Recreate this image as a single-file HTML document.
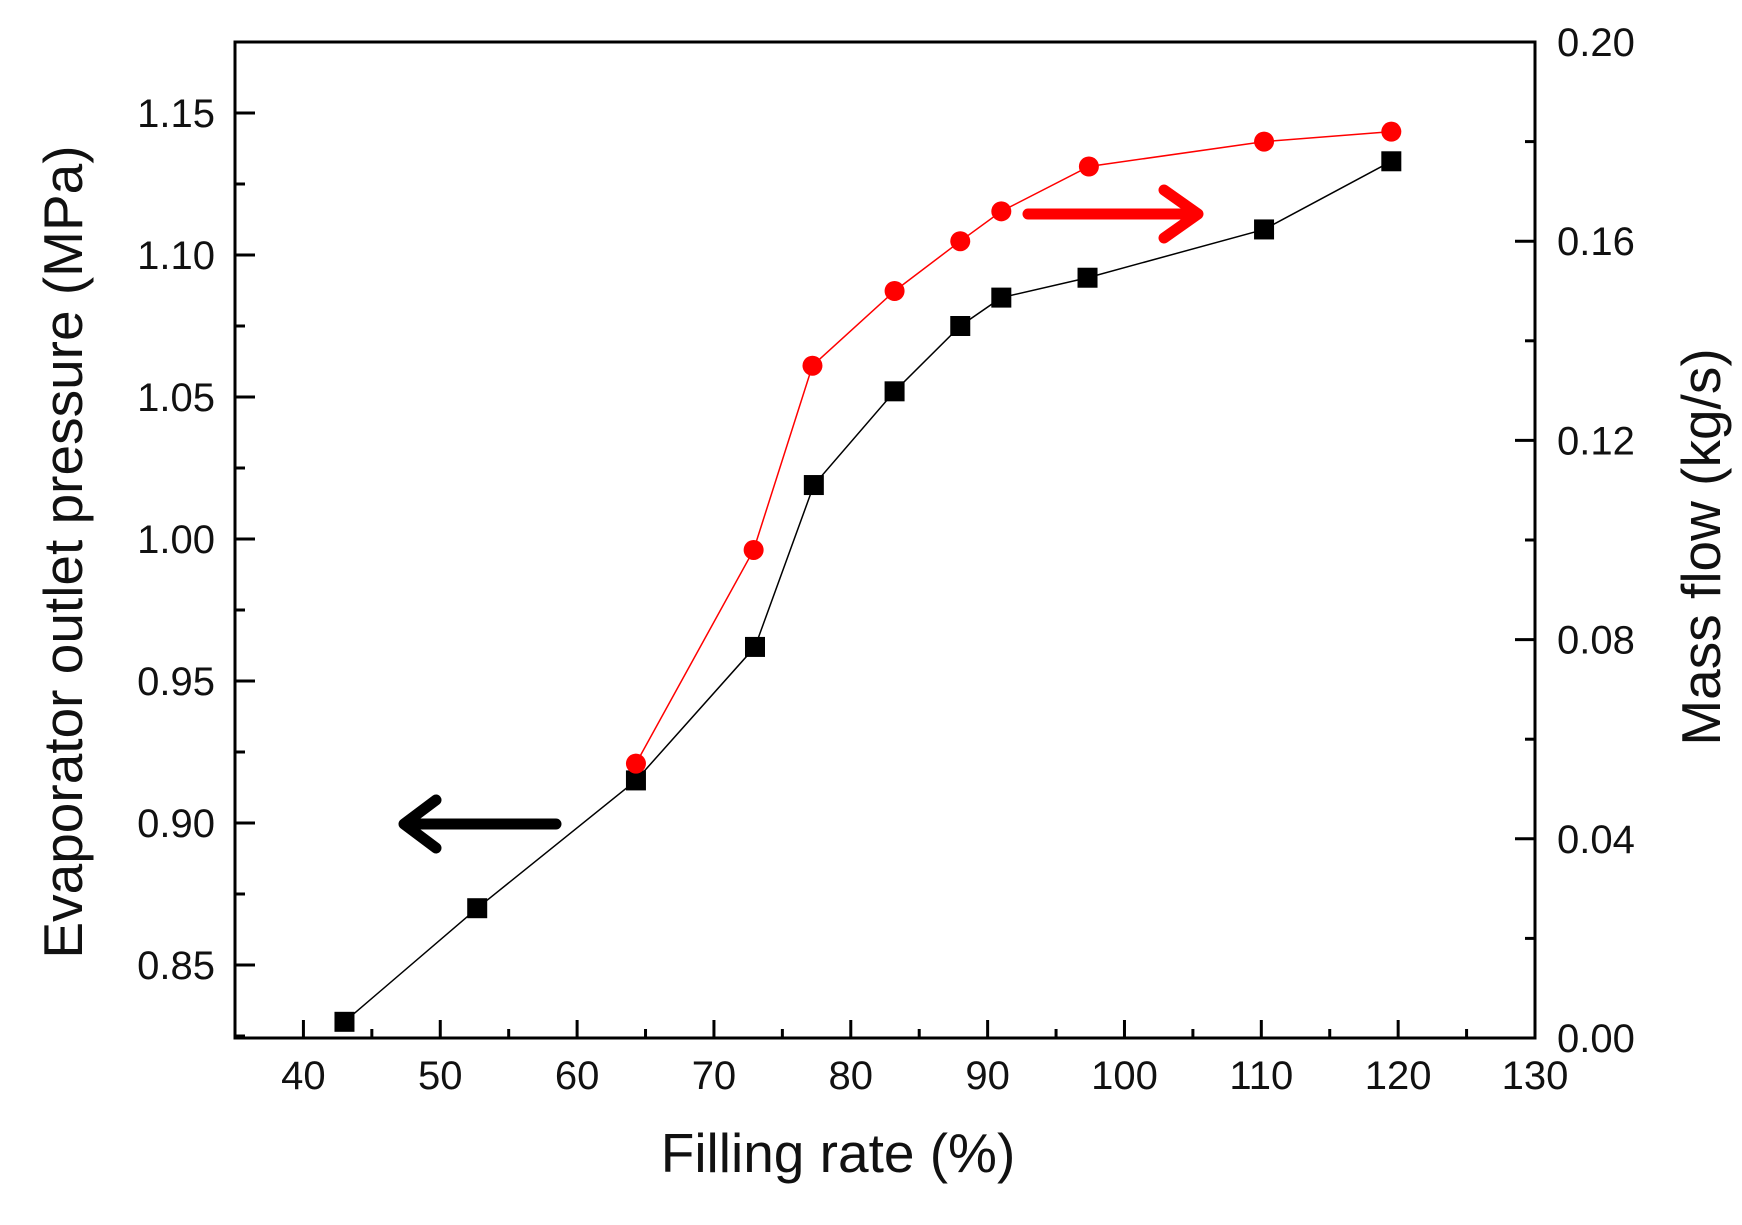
<!DOCTYPE html>
<html><head><meta charset="utf-8"><style>
body{margin:0;background:#fff}
svg text{font-family:"Liberation Sans",sans-serif;fill:#111}
</style></head><body>
<svg width="1742" height="1220" id="c"></svg>
<script>
const xVals=[43,52.7,64.3,73,77.3,83.2,88,91,97.3,110.2,119.5];
const pressure=[0.830,0.870,0.915,0.962,1.019,1.052,1.075,1.085,1.092,1.109,1.133];
const xRed=[64.3,72.9,77.2,83.2,88,91,97.4,110.2,119.5];
const massFlow=[0.0551,0.098,0.135,0.150,0.160,0.166,0.175,0.180,0.182];
const xTicks=[40,50,60,70,80,90,100,110,120,130];
const yLTicks=[0.85,0.90,0.95,1.00,1.05,1.10,1.15];
const yRTicks=[0.00,0.04,0.08,0.12,0.16,0.20];
const L=235,R=1535,T=42,B=1038;
const X=v=>L+(v-35)/95*(R-L);
const YL=v=>B-(v-0.8243)/(1.175-0.8243)*(B-T);
const YR=v=>B-v/0.2*(B-T);
const s=document.getElementById('c');const NS='http://www.w3.org/2000/svg';
function el(t,a,name,txt){const e=document.createElementNS(NS,t);for(const k in a)e.setAttribute(k,a[k]);


if(txt!==undefined)e.textContent=txt;s.appendChild(e);return e;}
el('rect',{x:L,y:T,width:R-L,height:B-T,fill:'none',stroke:'#000','stroke-width':3},'plot-frame');
for(let v=35;v<=130;v+=5){const maj=v%10==0;el('line',{x1:X(v),x2:X(v),y1:B,y2:B-(maj?18:9),stroke:'#000','stroke-width':3},'x-tick');}
xTicks.forEach(v=>el('text',{x:X(v),y:B+51,'font-size':40,'text-anchor':'middle'},'x-tick-label',v));
for(let v=0.825;v<=1.175;v+=0.025){const maj=Math.abs(Math.round(v*20)-v*20)<1e-6;el('line',{x1:L,x2:L+(maj?20:10),y1:YL(v),y2:YL(v),stroke:'#000','stroke-width':3},'y-left-tick');}
yLTicks.forEach(v=>el('text',{x:L-20,y:YL(v)+14,'font-size':40,'text-anchor':'end'},'y-left-tick-label',v.toFixed(2)));
for(let i=0;i<=10;i++){const v=i*0.02;const maj=i%2==0;el('line',{x1:R,x2:R-(maj?20:10),y1:YR(v),y2:YR(v),stroke:'#000','stroke-width':3},'y-right-tick');}
yRTicks.forEach(v=>el('text',{x:R+22,y:YR(v)+14,'font-size':40},'y-right-tick-label',v.toFixed(2)));
el('text',{x:838,y:1172,'font-size':55,'text-anchor':'middle'},'x-axis-title','Filling rate (%)');
el('text',{x:0,y:0,'font-size':55,'text-anchor':'middle',transform:'translate(82,552) rotate(-90)'},'y-left-axis-title','Evaporator outlet pressure (MPa)');
el('text',{x:0,y:0,'font-size':55,'text-anchor':'middle',transform:'translate(1720,547) rotate(-90)'},'y-right-axis-title','Mass flow (kg/s)');
el('polyline',{points:xVals.map((x,i)=>X(x)+','+YL(pressure[i])).join(' '),fill:'none',stroke:'#000','stroke-width':1.5},'pressure-line');
xVals.forEach((x,i)=>el('rect',{x:X(x)-10,y:YL(pressure[i])-10,width:20,height:20,fill:'#000'},'pressure-point'));
el('polyline',{points:xRed.map((x,i)=>X(x)+','+YR(massFlow[i])).join(' '),fill:'none',stroke:'#f00','stroke-width':1.5},'massflow-line');
xRed.forEach((x,i)=>el('circle',{cx:X(x),cy:YR(massFlow[i]),r:10,fill:'#f00'},'massflow-point'));
el('path',{d:'M556,824 L406,824 M436,800 L404,824 L436,848',fill:'none',stroke:'#000','stroke-width':11,'stroke-linecap':'round','stroke-linejoin':'round'},'left-axis-arrow');
el('path',{d:'M1028,214 L1196,214 M1164,190 L1198,214 L1164,238',fill:'none',stroke:'#f00','stroke-width':11,'stroke-linecap':'round','stroke-linejoin':'round'},'right-axis-arrow');
</script>
</body></html>
